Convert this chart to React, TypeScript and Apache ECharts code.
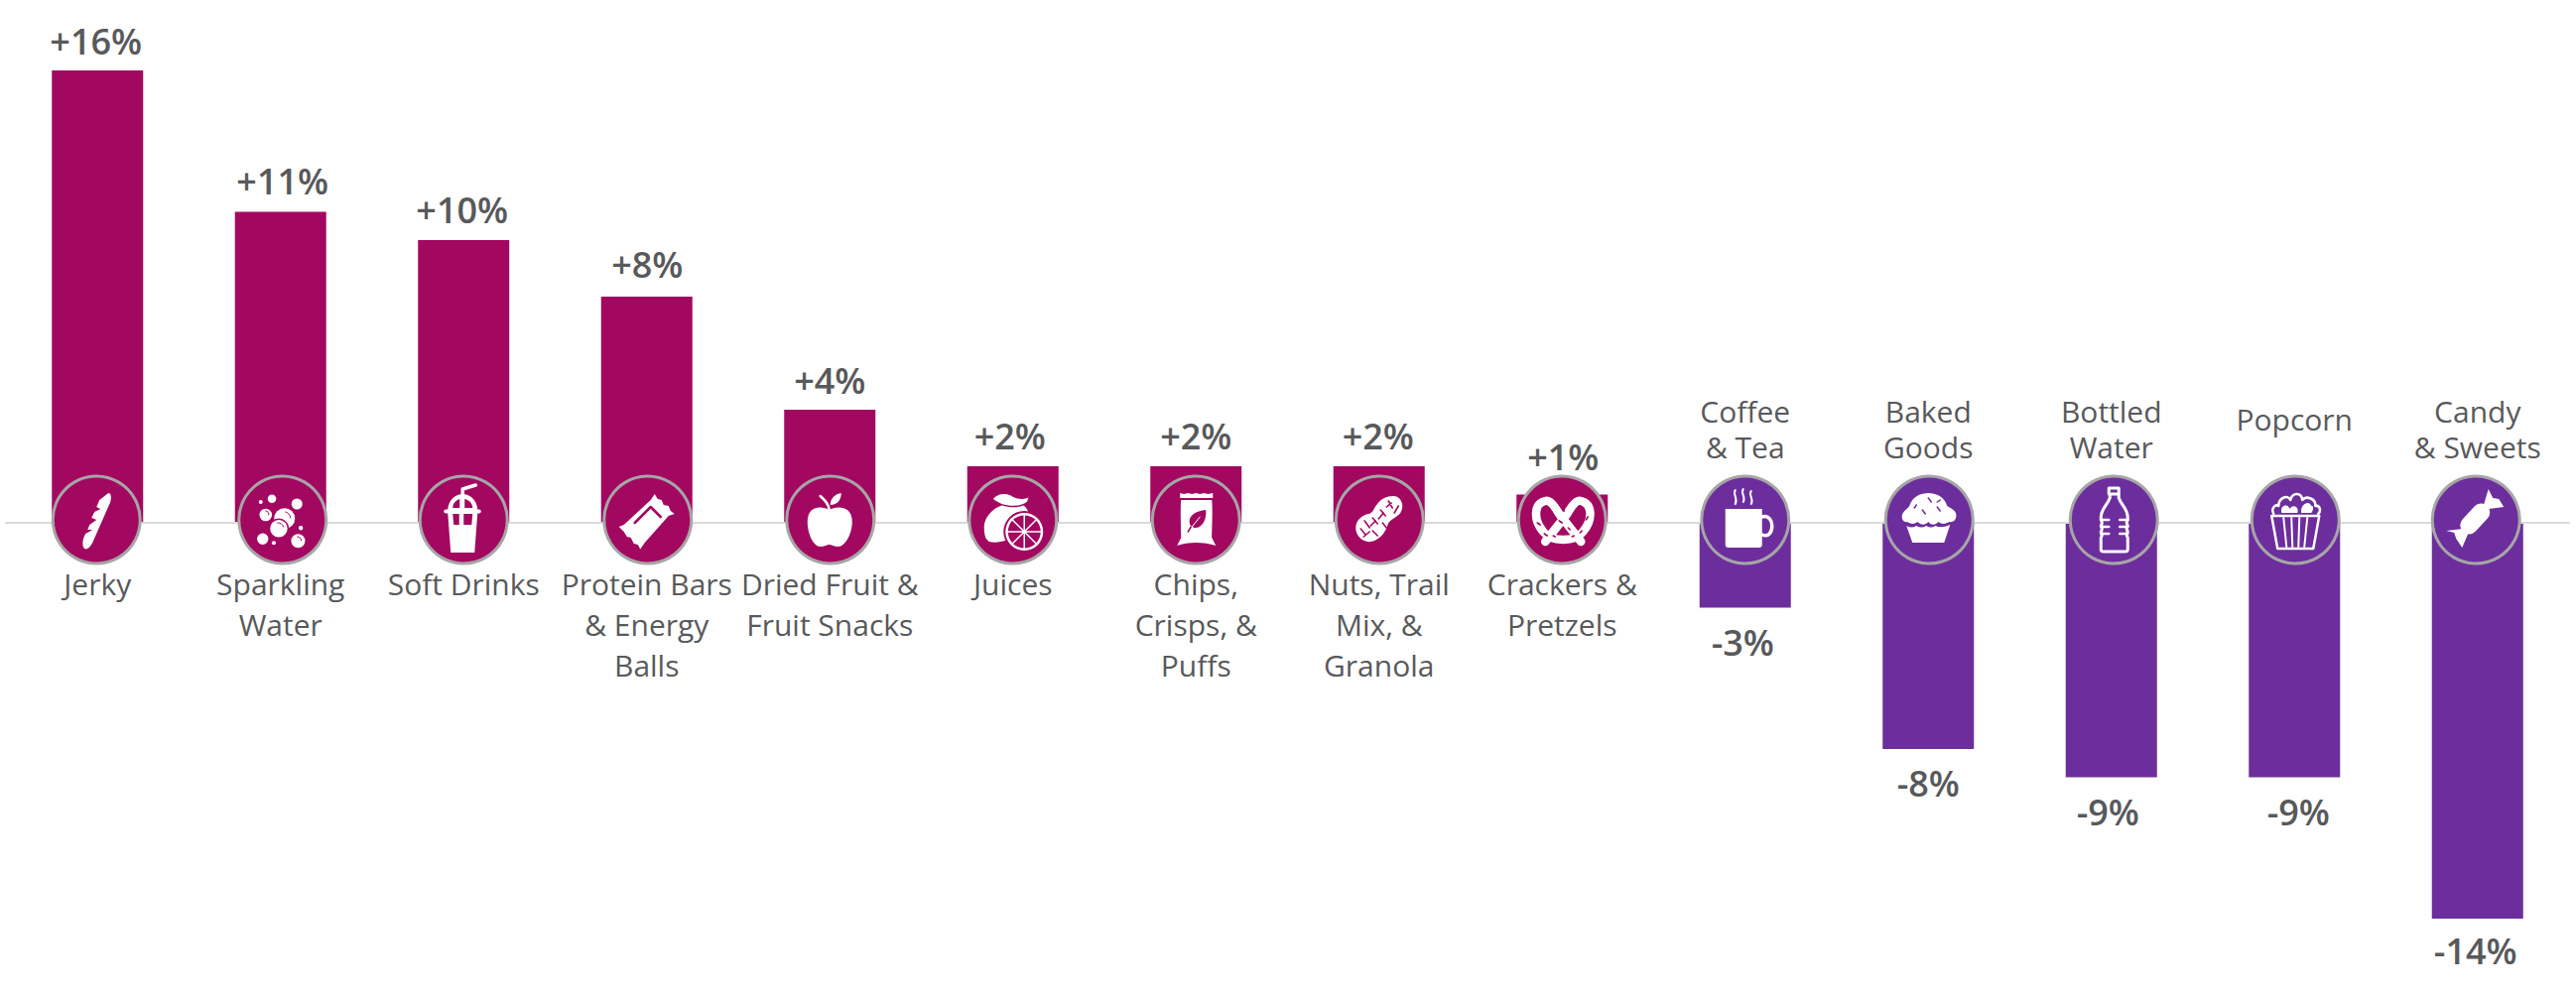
import React, { useEffect, useRef } from "react";
import * as echarts from "echarts";

const categories = [
  "Jerky", "Sparkling\nWater", "Soft Drinks", "Protein Bars\n& Energy\nBalls", "Dried Fruit &\nFruit Snacks",
  "Juices", "Chips,\nCrisps, &\nPuffs", "Nuts, Trail\nMix, &\nGranola", "Crackers &\nPretzels",
  "Coffee\n& Tea", "Baked\nGoods", "Bottled\nWater", "Popcorn", "Candy\n& Sweets",
];
const values = [16, 11, 10, 8, 4, 2, 2, 2, 1, -3, -8, -9, -9, -14];
const valueLabels = ["+16%", "+11%", "+10%", "+8%", "+4%", "+2%", "+2%", "+2%", "+1%", "-3%", "-8%", "-9%", "-9%", "-14%"];
// hand placement of the reference's labels and badges, in pixels
const labelNudgeX = [-1.5, 2, -1.5, 0.5, 0, -3, 0, -1, 1, -2.5, 0, -3.5, 4, -2];
const labelNudgeY = [-5, -6, -6, -8, -5, -6, -6, -6, -13, 3, 2, 3, 3, 0];
const badgeNudgeX = [-1, 2, 0, 1, 0.5, 0, 0, 0.5, 0, 0, 1, 2.5, 1, -1.5];

const MAGENTA = "#A30861";
const PURPLE = "#6D2E9D";
const TEXT = "#58595B";
const W = "#FFFFFF";
const C = "cut";

type Part = { d: string; f?: string; s?: string; w?: number };
const circ = (x: number, y: number, r: number) =>
  `M${x - r},${y}A${r},${r} 0 1 1 ${x + r},${y}A${r},${r} 0 1 1 ${x - r},${y}Z`;

const iconJerky: Part[] = [
  { d: "M12,-27C15,-27 15,-22 14,-18L-4,23C-7,29 -11,31 -13,28C-15,24 -13,17 -11,14L-4,10L-9,10L-7,5L0,0L-5,-2L-2,-8L4,-11L0,-13L3,-20Z", f: W },
];
const iconSparkling: Part[] = [
  { d: circ(-10.7, -21.3, 4.3), f: W }, { d: circ(14.5, -16, 5.5), f: W }, { d: circ(-22, -18, 2), f: W },
  { d: circ(-17, -5, 6.3), f: W }, { d: circ(2, -1.3, 10.5), f: W },
  { d: circ(-3.8, 8.7, 9.5), f: W, s: C, w: 1.5 }, { d: circ(18.4, 8.3, 2.2), f: W },
  { d: circ(-20, 19.3, 5.7), f: W }, { d: circ(-8.8, 23.3, 2), f: W }, { d: circ(15.7, 21.3, 7), f: W },
  { d: "M3,-8A7,7 0 0 1 8,-2M-5,3A6,6 0 0 1 1,7M-17,-9A3,3 0 0 1 -14,-5M15,17A4,4 0 0 1 19,21", s: C, w: 1 },
];
const iconSoftDrink: Part[] = [
  { d: "M-1,-26L-1,-31L12,-35", s: W, w: 3.5 },
  { d: "M-16,-9C-16,-20 -8,-26 -1,-26C6,-26 14,-20 14,-9Z", f: W },
  { d: "M-18,-8.5L15.5,-8.5", s: W, w: 4 },
  { d: "M-16,-7L14,-7L11,33L-13,33Z", f: W },
  { d: "M-11,-12C-11,-16 -9,-19 -4,-21L-4,-12Z", f: C },
  { d: "M1,-21C6,-20 9,-16 9,-12L1,-12Z", f: C },
  { d: "M-11,-6H-4.5V5H-10Z", f: C },
  { d: "M0,-6H9L8,5H0Z", f: C },
];
const iconProtein: Part[] = [
  { d: "M7,-26L10,-21L14,-20L16,-15L21,-14L23,-9L27,-6L21,-4L-3,23L-7.5,29.5L-10,25L-14,24L-17,18L-21,17L-24,12L-29,7L-24,5L3,-20Z", f: W },
  { d: "M-13,3L3,-13L13,-3", s: C, w: 2.5 },
];
const iconApple: Part[] = [
  { d: "M-1,-10C-8,-14 -23,-15 -23,2C-23,14 -17,27 -10,27C-6,27 -3,25 -1,25C1,25 4,27 8,27C15,27 22,14 22,2C22,-15 6,-14 -1,-10Z", f: W },
  { d: "M-10,-24L-6,-20Q-2,-16 -1,-10", s: W, w: 2.5 },
  { d: "M0,-15C0,-22 5,-26 11,-27C11,-20 7,-15 0,-15Z", f: W },
];
const iconJuice: Part[] = [
  { d: "M-6,-16C-18,-14 -29,-4 -29,8C-29,13 -28,17 -27,19L-24,22C-15,24 -8,21 -4,20C5,20 16,10 16,-4C16,-10 12,-15 8,-16Z", f: W },
  { d: "M-21,-21C-15,-28 -6,-28 0,-24C6,-21 12,-21 17,-24L15,-18C6,-11 -10,-12 -21,-21Z", f: W, s: C, w: 1.5 },
  { d: circ(11.5, 12, 21), f: C },
  { d: circ(11.5, 12, 19), f: W },
  { d: circ(11.5, 12, 16.5), f: C },
  { d: "M11.5,-4.5V28.5M-5,12H28M0,0.5L23,23.5M23,0.5L0,23.5", s: W, w: 1.5 },
  { d: circ(11.5, 12, 2), f: W },
];
const iconChips: Part[] = [
  { d: "M-16,-27L-12,-26L-8,-27L-4,-26L0,-27L4,-26L8,-27L12,-26L17,-27V-22H-16Z", f: W },
  { d: "M-15,-20H16C17,-10 16,10 16,18L20,26C8,22 -8,22 -19,26L-15,18C-15,10 -16,-10 -15,-20Z", f: W },
  { d: "M-6,5C-9,-4 0,-9 10,-10C11,0 6,9 -2,8Z", f: C },
  { d: "M-8,12L4,-3", s: W, w: 1 },
  { d: "M-8,12L-5,7", s: C, w: 1.5 },
];
const iconPeanut: Part[] = [
  { d: "M14,-24C21,-24 25,-16 22,-9C20,-3 14,-3 9,3C7,9 4,17 -5,21C-14,25 -24,18 -24,8C-24,0 -17,-5 -11,-6C-6,-7 -6,-12 -3,-15C1,-21 7,-24 14,-24Z", f: W },
  { d: "M-15,1L-10,8M-19,9L-14,15M-7,-2L-2,4M-7,11L-2,16M1,-10L6,-4M3,3L7,8M9,-19L13,-12M15,-7L19,-14M-1,-1L4,-7M-9,6L-4,1M-16,17L-10,12M7,-13L12,-17", s: C, w: 1.6 },
];
const iconPretzel: Part[] = [
  { d: "M19,22L-3,-6C-9,-16 -13,-20 -17,-19C-29,-16 -29,0 -19,12C-13,20 -4,20 1,20C6,20 15,20 21,12C31,0 31,-16 19,-19C15,-20 11,-16 5,-6L-17,22", s: W, w: 8.5 },
  { d: "M-20,-12L-18,-10M-25,3L-22,5M-18,14L-15,16M17,-14L19,-12M26,-3L24,0M20,11L18,13M-3,1L0,3M1,-12L2,-9M-9,16L-7,17M10,17L12,16M6,8L8,10", s: C, w: 1.6 },
];
const iconCoffee: Part[] = [
  { d: "M-20,-11H17V25Q17,28 14,28H-17Q-20,28 -20,25Z", f: W },
  { d: "M17,-3C24,-5 27,1 27,6C27,12 24,18 17,15", s: W, w: 3.5 },
  { d: "M-10,-30C-13,-26 -7,-22 -10,-16M-2,-31C-5,-27 1,-23 -2,-18M6,-29C3,-25 9,-21 6,-16", s: W, w: 2 },
];
const iconBaked: Part[] = [
  { d: "M-27,-6C-25,-10 -22,-11 -20,-14C-17,-24 -8,-27 -1,-27C6,-27 15,-24 18,-14C21,-12 26,-10 27,-6C28,0 24,3 20,2C17,4 13,5 9,2C6,6 1,5 -1,2C-4,6 -9,5 -12,2C-15,5 -20,4 -22,2C-25,3 -29,0 -27,-6Z", f: W },
  { d: "M-1,-22L2,-18M-13,-15L-15,-12M-7,-10L-4,-6M8,-13L11,-9M11,-20L8,-18", s: C, w: 1.5 },
  { d: "M-23,6Q-18,9 -13,6Q-8,9 -3,6Q2,9 6,6Q12,9 21,5L15,23H-17Z", f: W },
];
const iconBottle: Part[] = [
  { d: "M-5,-32H5V-26H-5ZM-4,-26V-22C-7,-14 -13,-11 -13,-2V0Q-11,3 -13,6Q-11,9 -13,12Q-11,15 -13,18V30Q-13,32 -10,32H11Q14,32 14,30V18Q12,15 14,12Q12,9 14,6Q12,3 14,0V-2C14,-11 8,-14 5,-22V-26", s: W, w: 3 },
  { d: "M-13,0H-5M6,0H14M-13,7H-5M6,7H14M-13,14H-5M6,14H14", s: W, w: 2.5 },
];
const iconPopcorn: Part[] = [
  { d: "M-24,-4H24L18,29H-18Z", s: W, w: 2.5 },
  { d: "M-12,-2L-9,27M-4,-2L-3,27M4,-2L3,27M12,-2L9,27", s: W, w: 2 },
  { d: "M-22,-6C-25,-12 -20,-16 -17,-14C-17,-22 -8,-26 -5,-20C-3,-28 6,-28 7,-20C11,-25 21,-21 20,-14C25,-15 26,-9 23,-6", s: W, w: 2.5 },
  { d: "M-14,-7C-16,-15 -7,-17 -6,-11C-3,-16 4,-14 2,-7Z", f: W },
  { d: "M6,-7C4,-15 14,-21 16,-14C19,-15 18,-9 16,-7Z", f: W },
];
const iconCandy: Part[] = [
  { d: "M-7,5.5L5,-7.5", s: W, w: 18 },
  { d: "M12.5,-31L17,-22L23,-21L28,-13L13,-11L8,-16Z", f: W },
  { d: "M-30,11L-22,13L-20,19L-14,28L-8,14L-13,9Z", f: W },
];
const icons = [
  iconJerky, iconSparkling, iconSoftDrink, iconProtein, iconApple, iconJuice, iconChips,
  iconPeanut, iconPretzel, iconCoffee, iconBaked, iconBottle, iconPopcorn, iconCandy,
];

const labelFont = { fontFamily: "Open Sans", fontSize: 30, color: TEXT };

export default function App() {
  const ref = useRef<HTMLDivElement>(null);
  useEffect(() => {
    document.body.style.margin = "0";
    const chart = echarts.init(ref.current!, undefined, { renderer: "svg" });
    const baseAxis = {
      type: "category",
      position: "top",
      data: categories,
      axisTick: { show: false },
      splitLine: { show: false },
    };
    chart.setOption({
      animation: false,
      backgroundColor: "#FFFFFF",
      grid: { left: 6, top: 14, width: 2583, height: 969, containLabel: false, outerBoundsMode: "none" },
      yAxis: { type: "value", min: -16, max: 18, interval: 2, show: false },
      xAxis: [
        {
          ...baseAxis,
          z: 3,
          axisLine: { onZero: true, lineStyle: { color: "#D9D9D9", width: 2 } },
          axisLabel: {
            ...labelFont,
            interval: 0,
            inside: true,
            margin: 554,
            lineHeight: 41,
            formatter: (v: string) => (values[categories.indexOf(v)] > 0 ? v : ""),
          },
        },
        {
          ...baseAxis,
          z: 3,
          axisLine: { show: false, onZero: false },
          axisLabel: {
            ...labelFont,
            interval: 0,
            inside: true,
            margin: 382,
            lineHeight: 36,
            formatter: (v: string) => {
              if (values[categories.indexOf(v)] > 0) return "";
              return v.includes("\n") ? v : `{single|${v}}`;
            },
            rich: { single: { ...labelFont, lineHeight: 36, padding: [17, 0, 0, 0] } },
          },
        },
      ],
      series: [
        {
          type: "bar",
          barWidth: 92,
          z: 2,
          data: values.map((v, i) => ({
            value: v,
            itemStyle: { color: v > 0 ? MAGENTA : PURPLE },
            label: {
              show: true,
              position: v > 0 ? "top" : "bottom",
              distance: v > 0 ? 7 : 14,
              offset: [labelNudgeX[i], labelNudgeY[i]],
              formatter: valueLabels[i],
              fontFamily: "Open Sans",
              fontWeight: 600,
              fontSize: 36,
              color: TEXT,
            },
          })),
        },
        {
          type: "custom",
          z: 4,
          clip: false,
          silent: true,
          encode: { x: 0, y: 1 },
          data: values.map((_, i) => [i, 0]),
          renderItem: (params: any, api: any) => {
            const i = api.value(0);
            const [x, y] = api.coord([i, 0]);
            const fill = values[i] > 0 ? MAGENTA : PURPLE;
            const pick = (c?: string) => (c === C ? fill : c);
            return {
              type: "group",
              x: x + badgeNudgeX[i],
              y: y - 3,
              children: [
                {
                  type: "circle",
                  shape: { cx: 0, cy: 0, r: 44 },
                  style: { fill, stroke: "#A6A6A6", lineWidth: 3 },
                },
                ...icons[i].map((p) => ({
                  type: "path",
                  shape: { pathData: p.d },
                  style: {
                    fill: p.f ? pick(p.f) : "none",
                    stroke: p.s ? pick(p.s) : "none",
                    lineWidth: p.w ?? 0,
                    lineCap: "round",
                    lineJoin: "round",
                  },
                })),
              ],
            };
          },
        },
      ],
    });
    return () => chart.dispose();
  }, []);
  return <div ref={ref} style={{ width: 2596, height: 1006 }} />;
}
